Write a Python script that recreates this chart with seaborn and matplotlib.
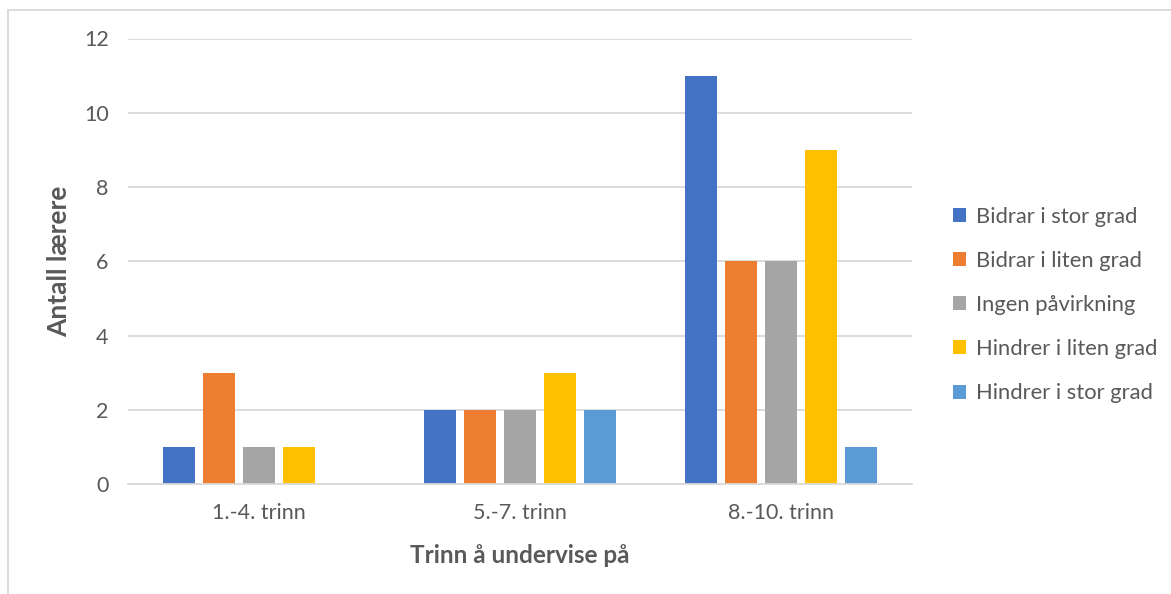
import matplotlib
matplotlib.use("Agg")
import matplotlib.pyplot as plt
from matplotlib.lines import Line2D
from matplotlib.patches import Patch
import seaborn as sns
import pandas as pd

categories = ["1.-4. trinn", "5.-7. trinn", "8.-10. trinn"]
series = ["Bidrar i stor grad", "Bidrar i liten grad", "Ingen påvirkning",
          "Hindrer i liten grad", "Hindrer i stor grad"]
bidrar_stor = [1, 2, 11]
bidrar_liten = [3, 2, 6]
ingen = [1, 2, 6]
hindrer_liten = [1, 3, 9]
hindrer_stor = [0, 2, 1]
colors = ["#4472C4", "#ED7D31", "#A5A5A5", "#FFC000", "#5B9BD5"]

values = [bidrar_stor, bidrar_liten, ingen, hindrer_liten, hindrer_stor]
rows = []
for s, vals in zip(series, values):
    for c, v in zip(categories, vals):
        rows.append({"Trinn": c, "Serie": s, "Antall": v})
df = pd.DataFrame(rows)

sns.set_theme(style="white")
plt.rcParams["font.family"] = ["Lato", "DejaVu Sans"]

W, H = 1171, 594
fig = plt.figure(figsize=(W / 100, H / 100), dpi=100)
ax = fig.add_axes([128 / W, 1 - 484 / H, (912 - 128) / W, (484 - 38.5) / H])

sns.barplot(data=df, x="Trinn", y="Antall", hue="Serie", order=categories,
            hue_order=series, palette=colors, width=0.766, gap=0.2,
            saturation=1, linewidth=0, ax=ax, legend=False)

ax.set_xlim(-0.5, 2.5)
ax.set_ylim(0, 12)
ax.set_yticks(range(0, 13, 2))
ax.yaxis.grid(True, color="#D9D9D9", linewidth=1.3)
ax.set_axisbelow(True)
for side in ["top", "right", "left"]:
    ax.spines[side].set_visible(False)
ax.spines["bottom"].set_color("#D9D9D9")
ax.spines["bottom"].set_linewidth(1.3)
ax.tick_params(axis="both", length=0, labelsize=15.5, colors="#595959")
ax.tick_params(axis="y", pad=14)
ax.tick_params(axis="x", pad=14)

ax.set_xlabel("Trinn å undervise på", fontsize=17.5, fontweight="bold",
              color="#595959", labelpad=15)
ax.set_ylabel("Antall lærere", fontsize=19, fontweight="bold",
              color="#595959", labelpad=9)

handles = [Patch(facecolor=c, edgecolor="none") for c in colors]
leg = fig.legend(handles, series, loc="center left",
                 bbox_to_anchor=(933 / W, 1 - 305 / H), frameon=False,
                 fontsize=15.8, labelspacing=1.1, handlelength=0.6,
                 handleheight=0.6, handletextpad=0.45)
for t in leg.get_texts():
    t.set_color("#595959")

# chart area outline along the top and left edges
fig.add_artist(Line2D([8 / W, 1], [1 - 10 / H, 1 - 10 / H],
                      transform=fig.transFigure, color="#D9D9D9", linewidth=1.3))
fig.add_artist(Line2D([8 / W, 8 / W], [0, 1 - 10 / H],
                      transform=fig.transFigure, color="#D9D9D9", linewidth=1.3))

fig.savefig("out.png", dpi=100, facecolor="white")
